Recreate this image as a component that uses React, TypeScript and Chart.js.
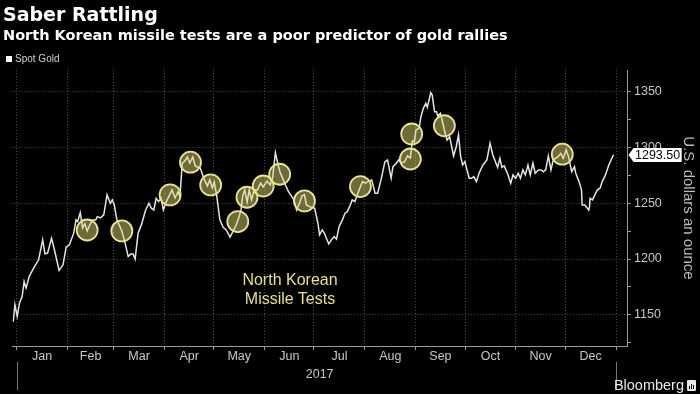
import React, { useEffect, useRef } from "react";
import { Chart, registerables } from "chart.js";

Chart.register(...registerables);

// Day of year 2017 (0 = Jan 1) and spot gold price
const days = [
  -2.1, -1.1, 0.3, 1.7, 3.3, 4.5, 5.7, 7.6, 10.3, 13.3, 15.8, 17.2, 18.8, 21.2, 23.2, 25.8, 28.2, 30.1, 32.1, 34.7,
  36.1, 37.1, 38.7, 40.1, 41.5, 42.9, 44.5, 46.3, 48.1, 49.1, 51.0, 53.0, 55.0, 57.0, 58.2, 59.4, 61.0, 64.0, 66.0, 67.9,
  69.4, 70.9, 72.1, 73.9, 75.9, 78.5, 80.5, 81.9, 83.5, 84.9, 86.4, 87.9, 89.3, 91.0, 92.8, 94.6, 96.4, 98.2, 99.4, 100.8,
  102.4, 103.9, 105.4, 107.2, 108.7, 111.8, 114.3, 116.1, 117.6, 119.1, 120.3, 121.7, 123.7, 125.7, 127.6, 129.9, 131.6, 133.4, 135.2, 136.6,
  137.6, 138.8, 140.3, 141.6, 143.0, 144.6, 146.6, 148.5, 150.1, 152.5, 154.3, 155.8, 157.5, 158.9, 160.3, 161.5, 163.3, 165.5, 167.2, 168.8,
  170.4, 172.2, 173.7, 175.2, 176.4, 178.4, 181.4, 183.4, 184.4, 186.0, 187.3, 188.8, 190.0, 191.9, 193.3, 194.7, 196.3, 198.3, 199.9, 201.3,
  202.7, 204.3, 205.9, 207.3, 209.3, 210.6, 212.2, 213.9, 216.2, 218.2, 219.8, 221.8, 224.2, 225.8, 228.0, 229.1, 231.2, 232.5, 234.3, 236.1,
  237.9, 239.7, 240.9, 242.1, 243.1, 245.1, 246.1, 247.6, 249.1, 250.0, 252.1, 253.0, 254.4, 255.6, 256.4, 258.0, 259.0, 260.4, 262.0, 263.6,
  266.0, 267.6, 269.0, 270.3, 271.5, 272.9, 273.9, 275.5, 276.9, 278.3, 279.9, 281.5, 283.9, 286.3, 288.2, 289.9, 291.5, 292.8, 294.2, 295.4,
  296.8, 298.8, 300.8, 302.2, 303.8, 305.4, 306.7, 308.2, 309.7, 311.3, 312.7, 314.3, 315.7, 317.7, 319.3, 320.7, 322.1, 323.7, 325.3, 326.7,
  329.6, 331.3, 332.7, 334.6, 336.0, 337.9, 339.6, 340.4, 342.4, 343.9, 344.3, 345.9, 348.3, 348.8, 349.1, 350.6, 352.0, 353.6, 355.2, 356.5,
  358.5, 360.5, 363.4,
];
const prices = [
  1143.7, 1159.0, 1148.5, 1160.7, 1166.4, 1179.8, 1173.9, 1184.3, 1191.8, 1199.3, 1217.2, 1204.6, 1205.3, 1218.7, 1206.7, 1189.7, 1194.8, 1210.6, 1212.7, 1223.2,
  1235.1, 1233.6, 1241.6, 1227.9, 1231.5, 1225.2, 1230.6, 1235.1, 1235.1, 1238.0, 1236.9, 1239.6, 1257.5, 1250.0, 1253.0, 1248.5, 1235.1, 1225.2, 1214.2, 1202.2,
  1204.6, 1204.6, 1199.9, 1223.2, 1230.6, 1244.0, 1250.0, 1245.6, 1244.0, 1254.5, 1251.5, 1254.5, 1244.0, 1251.2, 1256.6, 1262.0, 1254.8, 1260.2, 1256.0, 1285.9,
  1287.9, 1291.5, 1286.1, 1291.5, 1283.5, 1281.4, 1271.0, 1265.6, 1271.0, 1263.8, 1269.1, 1257.5, 1235.1, 1228.5, 1226.1, 1219.6, 1224.6, 1229.7, 1236.9, 1244.0,
  1256.6, 1262.0, 1251.2, 1262.0, 1253.0, 1262.0, 1262.0, 1268.2, 1264.6, 1270.0, 1266.4, 1272.7, 1295.4, 1285.9, 1278.1, 1273.9, 1267.3, 1260.4, 1256.6, 1253.0,
  1244.0, 1250.3, 1256.6, 1257.5, 1248.5, 1247.0, 1245.6, 1232.1, 1221.6, 1226.1, 1223.2, 1217.8, 1213.6, 1217.8, 1220.1, 1217.8, 1229.1, 1235.1, 1241.1, 1242.5,
  1247.0, 1253.0, 1251.5, 1257.5, 1264.9, 1269.4, 1268.0, 1269.4, 1270.9, 1259.0, 1259.0, 1270.9, 1287.3, 1288.8, 1272.4, 1282.8, 1285.9, 1288.8, 1286.1, 1287.0,
  1292.4, 1290.6, 1305.8, 1305.2, 1315.7, 1317.5, 1327.6, 1335.1, 1339.6, 1336.0, 1349.1, 1347.0, 1332.1, 1332.1, 1328.2, 1330.7, 1324.7, 1315.7, 1306.7, 1309.7,
  1292.4, 1300.7, 1311.2, 1291.8, 1284.3, 1287.3, 1281.4, 1272.4, 1272.4, 1273.9, 1269.4, 1276.9, 1284.3, 1288.8, 1303.8, 1293.3, 1287.3, 1282.3, 1290.3, 1282.3,
  1283.5, 1276.9, 1268.0, 1275.4, 1272.4, 1276.9, 1272.4, 1279.9, 1275.4, 1284.3, 1275.4, 1285.9, 1276.9, 1279.9, 1279.9, 1278.3, 1279.9, 1292.4, 1279.9, 1288.8,
  1291.8, 1294.8, 1290.3, 1297.8, 1291.8, 1278.3, 1282.8, 1276.9, 1269.4, 1262.0, 1248.5, 1248.5, 1244.0, 1247.0, 1254.5, 1253.0, 1257.5, 1262.0, 1263.5, 1269.4,
  1275.4, 1284.3, 1293.5,
];

// North Korean missile tests (circle positions)
const testDays = [42.9, 64.0, 93.4, 105.8, 118.1, 134.6, 140.2, 150.1, 160.1, 175.2, 209.3, 239.7, 240.5, 260.4, 332.2];
const testPrices = [1226.0, 1225.2, 1257.5, 1286.8, 1266.4, 1233.6, 1255.4, 1265.5, 1276.0, 1252.1, 1265.0, 1289.7, 1312.1, 1319.5, 1294.0];

const monthLabels = ["Jan", "Feb", "Mar", "Apr", "May", "Jun", "Jul", "Aug", "Sep", "Oct", "Nov", "Dec"];
const monthStarts = [0, 31, 59, 90, 120, 151, 181, 212, 243, 273, 304, 334, 365];
const yearLabel = "2017";
const yTicks = [1125, 1150, 1175, 1200, 1225, 1250, 1275, 1300, 1325, 1350];
const yLabelled = [1150, 1200, 1250, 1300, 1350];
const lastLabel = "1293.50";

const AXIS_FONT = '"Liberation Sans", sans-serif';
const TITLE_FONT = '"DejaVu Sans", "Liberation Sans", sans-serif';

// interleave month boundaries and mid-month label positions
const xTickValues: number[] = [];
monthStarts.forEach((s, i) => {
  xTickValues.push(s);
  if (i < monthStarts.length - 1) xTickValues.push((s + monthStarts[i + 1]) / 2);
});

const overlayPlugin = {
  id: "overlay",
  afterDraw(chart: any) {
    const { ctx, chartArea } = chart;
    const x = chart.scales.x;
    const y = chart.scales.y;
    ctx.save();
    // year separators below the axis
    ctx.strokeStyle = "#777";
    ctx.lineWidth = 1;
    [monthStarts[0], monthStarts[monthStarts.length - 1]].forEach((v) => {
      const px = Math.round(x.getPixelForValue(v)) + 0.5;
      ctx.beginPath();
      ctx.moveTo(px, chartArea.bottom + 16);
      ctx.lineTo(px, chartArea.bottom + 44);
      ctx.stroke();
    });
    // last value label
    const last = prices[prices.length - 1];
    const py = Math.round(y.getPixelForValue(last));
    ctx.font = '12.5px "Liberation Sans", sans-serif';
    const tw = ctx.measureText(lastLabel).width;
    const x0 = chartArea.right + 1.5;
    const bx = x0 + 5;
    const bw = tw + 3;
    const bh = 14;
    ctx.fillStyle = "#ffffff";
    ctx.beginPath();
    ctx.moveTo(x0, py);
    ctx.lineTo(bx, py - bh / 2);
    ctx.lineTo(bx + bw, py - bh / 2);
    ctx.lineTo(bx + bw, py + bh / 2);
    ctx.lineTo(bx, py + bh / 2);
    ctx.closePath();
    ctx.fill();
    ctx.fillStyle = "#000";
    ctx.textBaseline = "middle";
    ctx.textAlign = "left";
    ctx.fillText(lastLabel, bx + 1.5, py + 1);
    ctx.restore();
  },
};

function GoldChart() {
  const ref = useRef<HTMLCanvasElement | null>(null);
  useEffect(() => {
    if (!ref.current) return;
    const chart = new Chart(ref.current, {
      type: "line",
      data: {
        datasets: [
          {
            type: "scatter",
            label: "North Korean Missile Tests",
            data: testDays.map((d, i) => ({ x: d, y: testPrices[i] })),
            pointRadius: 10.5,
            pointHoverRadius: 10.5,
            backgroundColor: "rgba(230,222,120,0.48)",
            borderColor: "#ebe48a",
            borderWidth: 1.8,
            showLine: false,
          } as any,
          {
            label: "Spot Gold",
            data: days.map((d, i) => ({ x: d, y: prices[i] })),
            borderColor: "#e4e4e4",
            borderWidth: 1.5,
            pointRadius: 0,
            tension: 0,
            fill: false,
          },
        ],
      },
      options: {
        animation: false,
        responsive: false,
        devicePixelRatio: 1,
        layout: { padding: { top: 70, left: 0, right: 0, bottom: 0 } },
        plugins: { legend: { display: false }, tooltip: { enabled: false }, title: { display: false } },
        scales: {
          x: {
            type: "linear",
            position: "bottom",
            min: -2.69,
            max: 371.6,
            afterBuildTicks: (s: any) => {
              s.ticks = xTickValues.map((v) => ({ value: v }));
            },
            afterFit: (s: any) => {
              s.height = 48;
            },
            ticks: {
              autoSkip: false,
              maxRotation: 0,
              minRotation: 0,
              padding: -1,
              color: "#c8c8c8",
              font: { family: AXIS_FONT, size: 12.5 },
              callback: (_v: any, i: number) => (i % 2 === 1 ? monthLabels[(i - 1) / 2] : ""),
            },
            grid: {
              color: (c: any) => (c.index % 2 === 0 ? "#4d4d4d" : "transparent"),
              tickColor: (c: any) => (c.index % 2 === 0 ? "#9a9a9a" : "transparent"),
              tickLength: 4,
              tickBorderDash: [],
              lineWidth: 1,
            },
            border: { color: "#9a9a9a", dash: [1, 2] },
            title: {
              display: true,
              text: yearLabel,
              color: "#c8c8c8",
              font: { family: AXIS_FONT, size: 12.5 },
              padding: { top: 0, bottom: 12 },
            },
          },
          y: {
            type: "linear",
            position: "right",
            min: 1122,
            max: 1369.5,
            afterBuildTicks: (s: any) => {
              s.ticks = yTicks.map((v) => ({ value: v }));
            },
            afterFit: (s: any) => {
              s.width = 73;
            },
            ticks: {
              padding: 3,
              color: "#c8c8c8",
              font: { family: AXIS_FONT, size: 12.5 },
              callback: (v: any) => (yLabelled.includes(v) ? String(v) : ""),
            },
            grid: {
              color: (c: any) => (c.tick && yLabelled.includes(c.tick.value) ? "#4d4d4d" : "transparent"),
              tickColor: "#9a9a9a",
              tickLength: 4,
              tickBorderDash: [],
              lineWidth: 1,
            },
            border: { color: "#9a9a9a", dash: [1, 2] },
            title: {
              display: true,
              text: "U.S. dollars an ounce",
              color: "#bdbdbd",
              font: { family: '"Liberation Sans", sans-serif', size: 15 },
              padding: { top: 3, bottom: 0 },
            },
          },
        },
      },
      plugins: [overlayPlugin],
    } as any);
    return () => chart.destroy();
  }, []);
  return <canvas ref={ref} width={700} height={394} style={{ position: "absolute", left: 0, top: 0, width: 700, height: 394 }} />;
}

export default function App() {
  return (
    <div
      style={{
        position: "fixed",
        left: 0,
        top: 0,
        width: 700,
        height: 394,
        background: "#000",
        overflow: "hidden",
        fontFamily: '"Liberation Sans", sans-serif',
      }}
    >
      <GoldChart />
      <div style={{ position: "absolute", left: 3, top: 5, color: "#fff", fontFamily: TITLE_FONT, fontWeight: 700, fontSize: 19, lineHeight: 1, whiteSpace: "nowrap" }}>
        Saber Rattling
      </div>
      <div style={{ position: "absolute", left: 3, top: 28, color: "#fff", fontFamily: TITLE_FONT, fontWeight: 700, fontSize: 14.5, lineHeight: 1, whiteSpace: "nowrap" }}>
        North Korean missile tests are a poor predictor of gold rallies
      </div>
      <div style={{ position: "absolute", left: 6, top: 54, display: "flex", alignItems: "center", color: "#cfcfcf", fontSize: 10, lineHeight: 1, whiteSpace: "nowrap" }}>
        <span style={{ display: "inline-block", width: 6, height: 6, background: "#fff", marginRight: 3 }} />
        Spot Gold
      </div>
      <div style={{ position: "absolute", left: 220, width: 140, top: 271, textAlign: "center", color: "#e6e08a", fontSize: 16, lineHeight: "18.6px", whiteSpace: "nowrap" }}>
        North Korean
        <br />
        Missile Tests
      </div>
      <div style={{ position: "absolute", right: 4, top: 378, display: "flex", alignItems: "center", color: "#e8e8e8", fontSize: 14.5, lineHeight: 1, whiteSpace: "nowrap" }}>
        Bloomberg
        <span style={{ display: "inline-block", width: 9, height: 11, background: "#e8e8e8", marginLeft: 3, borderRadius: 1, position: "relative" }}>
          <span style={{ position: "absolute", left: 2, bottom: 2, width: 1, height: 3, background: "#000" }} />
          <span style={{ position: "absolute", left: 4, bottom: 2, width: 1, height: 5, background: "#000" }} />
          <span style={{ position: "absolute", left: 6, bottom: 2, width: 1, height: 4, background: "#000" }} />
        </span>
      </div>
    </div>
  );
}
